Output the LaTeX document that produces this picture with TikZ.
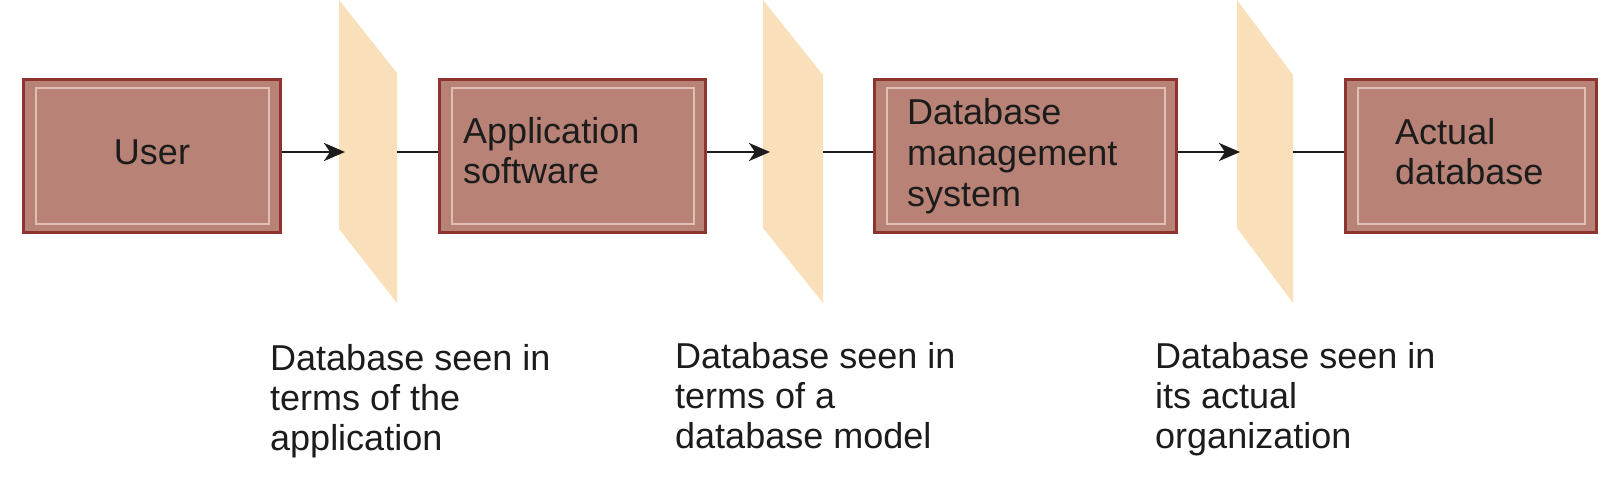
\documentclass[tikz,border=0pt]{standalone}
\usepackage{fontspec}
\setmainfont{Liberation Sans}
\usetikzlibrary{arrows.meta,calc}
\definecolor{boxfill}{RGB}{184,131,118}
\definecolor{boxedge}{RGB}{140,52,46}
\definecolor{boxinner}{RGB}{224,192,182}
\definecolor{screenfill}{RGB}{250,223,187}
\definecolor{ink}{RGB}{28,28,28}
\begin{document}
\begin{tikzpicture}[x=1pt,y=-1pt,
  stage/.style={draw=boxedge, line width=3pt, fill=boxfill, inner sep=0pt,
    minimum height=153pt,
    path picture={\draw[boxinner, line width=2pt]
      ([shift={(12pt,-8.5pt)}]path picture bounding box.north west) rectangle
      ([shift={(-12pt,8.5pt)}]path picture bounding box.south east);}},
  lbl/.style={font=\fontsize{36}{40}\selectfont, text=ink, align=left,
    anchor=base west, inner sep=0pt},
  link/.style={draw=ink, line width=2.6pt},
  flow/.style={link, -{Stealth[length=21pt,width=18pt,inset=6pt]}},
  screen/.style={fill=screenfill, draw=none}]
\useasboundingbox (0,0) rectangle (1616,486);

% boxes
\node[stage, minimum width=257pt] (user) at (152,156) {};
\node[stage, minimum width=266pt] (app) at (572.5,156) {};
\node[stage, minimum width=302pt] (dbms) at (1025.5,156) {};
\node[stage, minimum width=251pt] (actual) at (1471,156) {};

% box texts (anchored at the baseline of the last line)
\node[lbl, anchor=base] (userT) at (152,165) {User};
\node[lbl] (appT) at (463,184) {Application\\software};
\node[lbl, font=\fontsize{36}{41}\selectfont] (dbmsT) at (907,207) {Database\\management\\system};
\node[lbl] (actualT) at (1395,185) {Actual\\database};

% screens
\fill[screen] (339,0) -- (397,73) -- (397,303) -- (339,229) -- cycle;
\fill[screen] (763,0) -- (823,75) -- (823,303) -- (763,228) -- cycle;
\fill[screen] (1237,0) -- (1293,75) -- (1293,303) -- (1237,228) -- cycle;

% connector ends
\coordinate (t1) at (345,152);
\coordinate (s1) at (397,152);
\coordinate (t2) at (770,152);
\coordinate (s2) at (823,152);
\coordinate (t3) at (1240,152);
\coordinate (s3) at (1293,152);

\draw[flow] (user.east |- t1) -- (t1);
\draw[link] (s1) -- (app.west |- s1);
\draw[flow] (app.east |- t2) -- (t2);
\draw[link] (s2) -- (dbms.west |- s2);
\draw[flow] (dbms.east |- t3) -- (t3);
\draw[link] (s3) -- (actual.west |- s3);

% captions
\node[lbl] (cap1) at (270,450) {Database seen in\\terms of the\\application};
\node[lbl] (cap2) at (675,448) {Database seen in\\terms of a\\database model};
\node[lbl] (cap3) at (1155,448) {Database seen in\\its actual\\organization};
\end{tikzpicture}
\end{document}
